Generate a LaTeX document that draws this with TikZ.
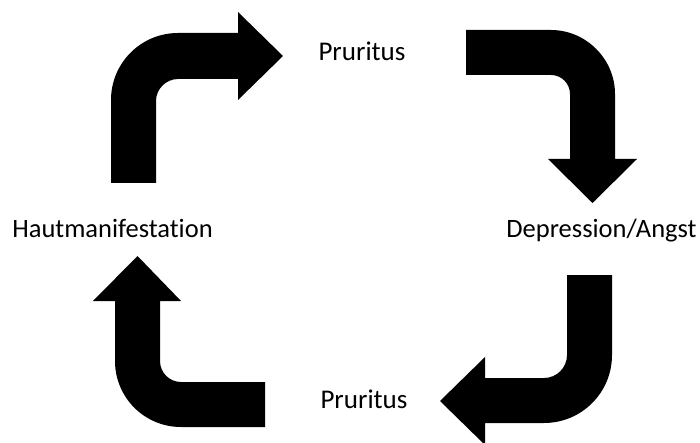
\documentclass[tikz,border=0pt]{standalone}
\usepackage{fontspec}
\setmainfont[Ligatures={NoCommon}]{Carlito}
\begin{document}
\begin{tikzpicture}[x=1pt,y=-1pt,
  lbl/.style={anchor=base,inner sep=0pt,font=\fontsize{26.5}{30}\selectfont},
  bentarrow/.style={fill=black,draw=none}]
\useasboundingbox (0,0) rectangle (700,443);
% labels
\node[lbl,font=\fontsize{27}{30}\selectfont] (top) at (362,61) {Pruritus};
\node[lbl] (right) at (601.5,237) {Depression/Angst};
\node[lbl,font=\fontsize{27}{30}\selectfont] (bottom) at (364,408) {Pruritus};
\node[lbl] (left) at (112.5,237) {Hautmanifestation};
% arrow 1 (left -> top)
\fill[bentarrow] (111,183) -- (111,100) .. controls (111,63) and (141,33) .. (178,33)
  -- (238,33) -- (238,12) -- (283,56) -- (238,100) -- (238,79) -- (178,79)
  .. controls (166,79) and (156,89) .. (156,101) -- (156,183) -- cycle;
% arrow 2 (top -> right)
\fill[bentarrow] (466,30) -- (551,30) .. controls (586,30) and (615,59) .. (615,94)
  -- (615,159) -- (637,159) -- (592.5,203) -- (548,159) -- (570,159) -- (570,94)
  .. controls (570,83.5) and (561.5,75) .. (551,75) -- (466,75) -- cycle;
% arrow 3 (right -> bottom)
\fill[bentarrow] (567,275) -- (612,275) -- (612,355) .. controls (612,392.6) and (581.6,423) .. (544,423)
  -- (485,423) -- (485,445) -- (440,401) -- (485,357) -- (485,378) -- (544,378)
  .. controls (556.7,378) and (567,367.7) .. (567,355) -- cycle;
% arrow 4 (bottom -> left)
\fill[bentarrow] (265,382) -- (181,382) .. controls (169.4,382) and (160,372.6) .. (160,361)
  -- (160,301) -- (181,301) -- (137.5,256) -- (93,301) -- (115,301) -- (115,361)
  .. controls (115,397.5) and (144.5,427) .. (181,427) -- (265,427) -- cycle;
\end{tikzpicture}
\end{document}
